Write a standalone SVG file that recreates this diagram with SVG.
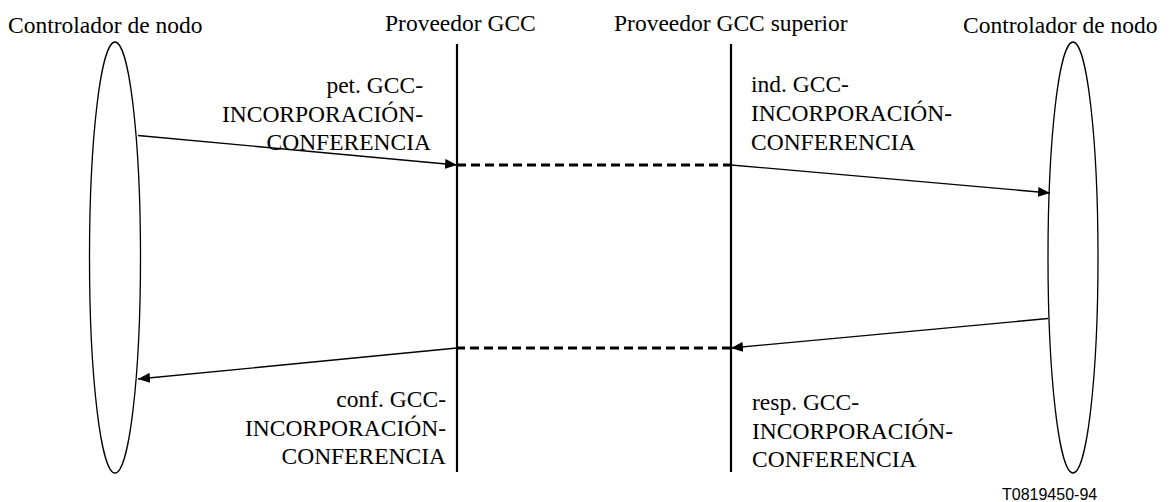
<svg xmlns="http://www.w3.org/2000/svg" width="1169" height="502" viewBox="0 0 1169 502">
<style>
.t{font-family:'Liberation Serif','Times New Roman',serif;font-size:23.5px;fill:#000}
.e{fill:none;stroke:#000;stroke-width:1.3}
.life{stroke:#000;stroke-width:2.2}
.msg{stroke:#000;stroke-width:1.3;fill:none}
.dash{stroke:#000;stroke-width:3.2;stroke-dasharray:9 5;fill:none}
.end{text-anchor:end}
.tag{font-family:'Liberation Sans',Arial,sans-serif;font-size:16px;fill:#000}
</style>
<defs>
<marker id="ah" viewBox="0 0 12 10" refX="12" refY="5" markerWidth="12" markerHeight="10" markerUnits="userSpaceOnUse" orient="auto">
<path d="M0,0 L12,5 L0,10 Z" fill="#000"/>
</marker>
</defs>
<g id="node-left">
<ellipse class="e" cx="115" cy="257.5" rx="25.5" ry="215.5"/>
<text class="t" x="8" y="33">Controlador de nodo</text>
</g>
<g id="node-gcc">
<line class="life" x1="457" y1="44" x2="457" y2="472"/>
<text class="t" x="385" y="31">Proveedor GCC</text>
</g>
<g id="node-gcc-sup">
<line class="life" x1="731" y1="44" x2="731" y2="472"/>
<text class="t" x="614" y="31">Proveedor GCC superior</text>
</g>
<g id="node-right">
<ellipse class="e" cx="1073" cy="257.5" rx="25" ry="215.5"/>
<text class="t" x="963" y="33">Controlador de nodo</text>
</g>
<g id="connectors">
<line class="msg" x1="138" y1="135.5" x2="457" y2="165" marker-end="url(#ah)"/>
<line class="dash" x1="457" y1="165" x2="731" y2="165"/>
<line class="msg" x1="731" y1="165" x2="1050" y2="193" marker-end="url(#ah)"/>
<line class="msg" x1="1048" y1="318.5" x2="731" y2="348" marker-end="url(#ah)"/>
<line class="dash" x1="731" y1="348" x2="457" y2="348"/>
<line class="msg" x1="457" y1="348" x2="138" y2="379" marker-end="url(#ah)"/>
</g>
<g id="labels">
<text class="t end" x="423" y="93">pet. GCC-</text>
<text class="t end" x="423" y="122">INCORPORACIÓN-</text>
<text class="t end" x="431" y="150">CONFERENCIA</text>
<text class="t" x="751" y="92">ind. GCC-</text>
<text class="t" x="751" y="121">INCORPORACIÓN-</text>
<text class="t" x="751" y="150">CONFERENCIA</text>
<text class="t end" x="446" y="406.5">conf. GCC-</text>
<text class="t end" x="446" y="435.5">INCORPORACIÓN-</text>
<text class="t end" x="446" y="463.5">CONFERENCIA</text>
<text class="t" x="752" y="409.5">resp. GCC-</text>
<text class="t" x="752" y="438.5">INCORPORACIÓN-</text>
<text class="t" x="752" y="466.5">CONFERENCIA</text>
<text class="tag" x="1002" y="500">T0819450-94</text>
</g>
</svg>
